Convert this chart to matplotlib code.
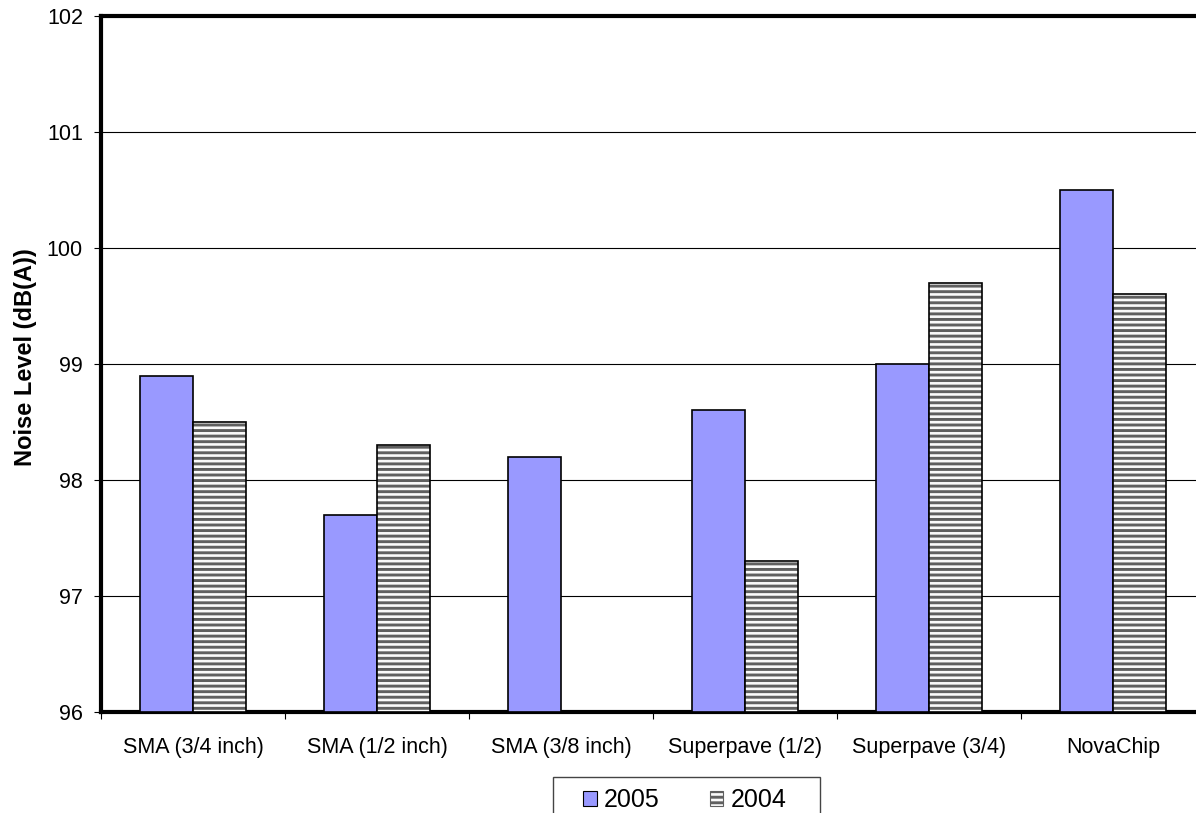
import matplotlib.pyplot as plt
import numpy as np
from matplotlib.patches import Patch, Rectangle

plt.rcParams['font.family'] = ['Liberation Sans', 'DejaVu Sans']
plt.rcParams['hatch.linewidth'] = 2.1

categories = ['SMA (3/4 inch)', 'SMA (1/2 inch)', 'SMA (3/8 inch)',
              'Superpave (1/2)', 'Superpave (3/4)', 'NovaChip']
y2005 = [98.9, 97.7, 98.2, 98.6, 99.0, 100.5]
y2004 = [98.5, 98.3, np.nan, 97.3, 99.7, 99.6]

fig = plt.figure(figsize=(11.96, 8.13), dpi=100)
ax = fig.add_axes([101 / 1196, 1 - 712 / 813, 1104 / 1196, 696 / 813])

x = np.arange(len(categories))
w = 1 / 3.5
base = 96

ax.bar(x - w / 2, np.array(y2005) - base, w, bottom=base, color='#9999ff',
       edgecolor='black', linewidth=1.2, zorder=3)
# striped 2004 bars: hatch layer then outline
ax.bar(x + w / 2, np.array(y2004) - base, w, bottom=base, color='#fafafa',
       edgecolor='#606060', hatch='---', linewidth=0, zorder=3)
ax.bar(x + w / 2, np.array(y2004) - base, w, bottom=base, fill=False,
       edgecolor='black', linewidth=1.2, zorder=4)

ax.set_ylim(96, 102)
ax.set_xlim(-0.5, len(categories) - 0.5)
ax.set_yticks(np.arange(96, 103, 1))
ax.yaxis.grid(True, color='black', linewidth=0.8, zorder=0)
ax.set_xticks(np.arange(-0.5, len(categories), 1))
ax.set_xticklabels([])
ax.set_xticks(x, minor=True)
ax.set_xticklabels(categories, minor=True)
ax.tick_params(axis='x', which='minor', length=0, pad=18, labelsize=15.5)
ax.tick_params(axis='x', which='major', length=5, width=0.8, color='black')
ax.tick_params(axis='y', length=5, width=0.8, labelsize=15.5, pad=8)

for s in ax.spines.values():
    s.set_linewidth(3)
    s.set_color('black')

ax.set_ylabel('Noise Level (dB(A))', fontsize=17, fontweight='bold')
ax.yaxis.set_label_coords(-0.058, 0.51)

handles = [Patch(facecolor='#9999ff', edgecolor='black', linewidth=0.8, label='2005'),
           Patch(facecolor='#fafafa', edgecolor='#606060', hatch='---', linewidth=0.8,
                 label='2004')]
fig.legend(handles=handles, loc='center left', bbox_to_anchor=(583 / 1196, 1 - 800 / 813),
           ncol=2, fontsize=18, frameon=False,
           handlelength=0.55, handleheight=0.55, handletextpad=0.28, columnspacing=2.0,
           borderpad=0, borderaxespad=0)
fig.patches.append(Rectangle((553 / 1196, -0.01), 267 / 1196, 0.01 + 36 / 813,
                             transform=fig.transFigure, fill=False,
                             edgecolor='#444444', linewidth=1.0))

fig.savefig('out.png', dpi=100)
